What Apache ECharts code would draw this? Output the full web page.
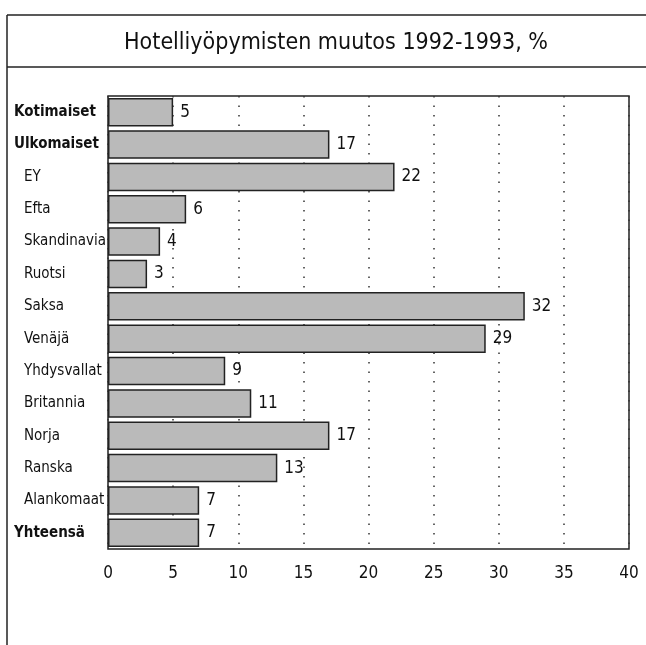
<!DOCTYPE html>
<html>
<head>
<meta charset="utf-8">
<script src="https://cdn.jsdelivr.net/npm/echarts@6/dist/echarts.min.js"></script>
<style>
  html, body { margin: 0; padding: 0; background: #fff; }
  #chart { width: 646px; height: 645px; }
</style>
</head>
<body>
<div id="chart"></div>
<script>
const categories = ['Kotimaiset', 'Ulkomaiset', 'EY', 'Efta', 'Skandinavia', 'Ruotsi', 'Saksa',
  'Venäjä', 'Yhdysvallat', 'Britannia', 'Norja', 'Ranska', 'Alankomaat', 'Yhteensä'];
const values = [5, 17, 22, 6, 4, 3, 32, 29, 9, 11, 17, 13, 7, 7];
const boldCats = ['Kotimaiset', 'Ulkomaiset', 'Yhteensä'];

const font = '"Liberation Sans Narrow", "DejaVu Sans Condensed", "Liberation Sans", sans-serif';
const chart = echarts.init(document.getElementById('chart'));

chart.setOption({
  backgroundColor: '#fff',
  animation: false,
  title: {
    text: 'Hotelliyöpymisten muutos 1992-1993, %',
    left: 331, top: 27, textAlign: 'center',
    textStyle: { fontFamily: font, fontSize: 23, fontWeight: 'normal', color: '#111' }
  },
  graphic: [
    { type: 'line', shape: { x1: 7, y1: 15, x2: 646, y2: 15 }, style: { stroke: '#222', lineWidth: 1.5 } },
    { type: 'line', shape: { x1: 7, y1: 67, x2: 646, y2: 67 }, style: { stroke: '#222', lineWidth: 1.5 } },
    { type: 'line', shape: { x1: 7, y1: 15, x2: 7, y2: 645 }, style: { stroke: '#222', lineWidth: 1.5 } }
  ],
  grid: { left: 108, right: 17, top: 96, bottom: 96, show: true, borderColor: '#222', borderWidth: 1.5 },
  xAxis: {
    type: 'value', min: 0, max: 40, interval: 5,
    axisLine: { show: false }, axisTick: { show: false },
    axisLabel: { margin: 16, fontFamily: font, fontSize: 17, color: '#111' },
    splitLine: { lineStyle: { type: [1.5, 8], color: '#333', width: 1.5 } }
  },
  yAxis: {
    type: 'category', data: categories, inverse: true,
    axisLine: { show: false }, axisTick: { show: false },
    axisLabel: {
      align: 'left', margin: 94,
      formatter: v => boldCats.includes(v) ? '{b|' + v + '}' : '{n|' + v + '}',
      rich: {
        b: { fontFamily: font, fontSize: 15, fontWeight: 'bold', color: '#111' },
        n: { fontFamily: font, fontSize: 15, color: '#111', padding: [0, 0, 0, 10] }
      }
    }
  },
  series: [{
    type: 'bar', data: values, barCategoryGap: '12%',
    itemStyle: { color: '#bababa', borderColor: '#222', borderWidth: 1.5 },
    label: { show: true, position: 'right', distance: 7, fontFamily: font, fontSize: 17, color: '#111' }
  }]
});
</script>
</body>
</html>
